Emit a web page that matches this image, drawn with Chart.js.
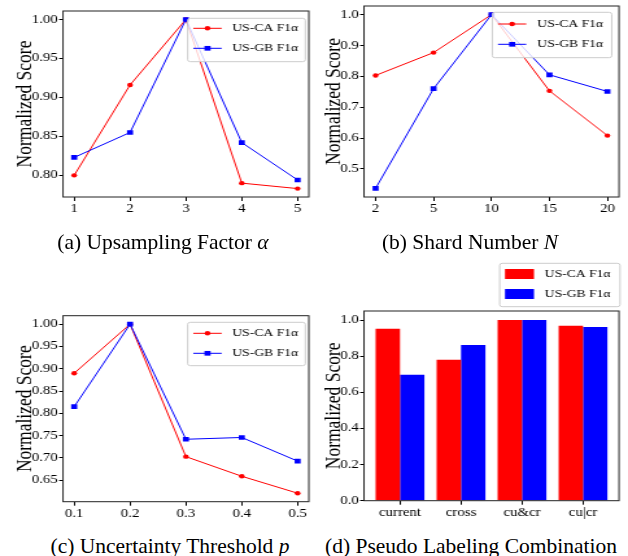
<!DOCTYPE html>
<html>
<head>
<meta charset="utf-8">
<script src="https://cdn.jsdelivr.net/npm/chart.js"></script>
<style>
html, body { margin: 0; padding: 0; background: #fff; }
body { width: 628px; height: 556px; position: relative; overflow: hidden; font-family: "Liberation Serif", serif; }
.panel { position: absolute; transform-origin: 0 0; }
.panel canvas { display: block; }
.cap { position: absolute; width: 320px; text-align: center; font-family: "Liberation Serif", serif; font-size: 21.5px; line-height: 24px; color: #000; white-space: nowrap; }
</style>
</head>
<body>
<div class="panel" id="pa"><canvas id="ca"></canvas></div>
<div class="panel" id="pb"><canvas id="cb"></canvas></div>
<div class="panel" id="pc"><canvas id="cc"></canvas></div>
<div class="panel" id="pd"><canvas id="cd"></canvas></div>
<div class="cap" style="left:3px;top:230px">(a) Upsampling Factor <i>α</i></div>
<div class="cap" style="left:310px;top:230px">(b) Shard Number <i>N</i></div>
<div class="cap" style="left:10px;top:534px">(c) Uncertainty Threshold <i>p</i></div>
<div class="cap" style="left:311px;top:534px">(d) Pseudo Labeling Combination</div>
<script>
// (a) upsampling factor
const alphaLabels = [1, 2, 3, 4, 5];
const alphaCA = [0.800, 0.916, 1.000, 0.790, 0.783];
const alphaGB = [0.823, 0.855, 1.000, 0.842, 0.794];
const alphaYTicks = [0.80, 0.85, 0.90, 0.95, 1.00];

// (b) shard number
const shardLabels = ['2', '5', '10', '15', '20'];
const shardCA = [0.803, 0.877, 1.000, 0.753, 0.608];
const shardGB = [0.437, 0.760, 1.000, 0.805, 0.751];
const shardYTicks = [0.5, 0.6, 0.7, 0.8, 0.9, 1.0];

// (c) uncertainty threshold
const thresholdLabels = [0.1, 0.2, 0.3, 0.4, 0.5];
const thresholdCA = [0.890, 1.000, 0.703, 0.659, 0.621];
const thresholdGB = [0.815, 1.000, 0.742, 0.746, 0.693];
const thresholdYTicks = [0.65, 0.70, 0.75, 0.80, 0.85, 0.90, 0.95, 1.00];

// (d) pseudo labeling combination
const comboLabels = ['current', 'cross', 'cu&cr', 'cu|cr'];
const comboCA = [0.952, 0.780, 1.000, 0.968];
const comboGB = [0.697, 0.862, 1.000, 0.962];
const comboYTicks = [0.0, 0.2, 0.4, 0.6, 0.8, 1.0];

const seriesNames = ['US-CA F1α', 'US-GB F1α'];
const RED = '#ff0000';
const BLUE = '#0000ff';
const FONT = 'Liberation Serif';
const CW = 242;       // canvas width before the sideways stretch
const S = 314 / CW;   // the figure text is stretched sideways

function yAxis(ticks, digits, min, max, width, titlePad) {
    return {
        type: 'linear', min: min, max: max,
        afterBuildTicks: s => { s.ticks = ticks.map(v => ({ value: v })); },
        afterFit: s => { s.width = width; s.paddingTop = 0; s.paddingBottom = 0; },
        ticks: { callback: v => Number(v).toFixed(digits), font: { family: FONT, size: 11.5 }, color: '#000', padding: 1 },
        grid: { drawOnChartArea: false, drawTicks: true, tickLength: 3, color: '#000', lineWidth: 1 },
        border: { display: false },
        title: { display: true, text: 'Normalized Score', font: { family: FONT, size: 17.5 }, color: '#000', padding: { top: titlePad, bottom: 0 } }
    };
}

function xAxis(ticks, fmt, min, max, height) {
    return {
        type: 'linear', min: min, max: max, offset: false,
        afterBuildTicks: s => { s.ticks = ticks.map(v => ({ value: v })); },
        afterFit: s => { s.height = height; s.paddingLeft = 0; s.paddingRight = 0; },
        ticks: { callback: fmt, font: { family: FONT, size: 11.5 }, color: '#000', padding: 1, maxRotation: 0, autoSkip: false },
        grid: { drawOnChartArea: false, drawTicks: true, tickLength: 4, color: '#000', lineWidth: 1, offset: false },
        border: { display: false }
    };
}

function framePlugin(legend) {
    return {
        id: 'frame',
        afterDatasetsDraw(chart) {
            const { ctx, chartArea: a } = chart;
            ctx.save();
            ctx.strokeStyle = '#222';
            ctx.lineWidth = 1;
            ctx.strokeRect(a.left, a.top, a.right - a.left, a.bottom - a.top);

            const [x0, y0, x1, y1] = legend.box;
            ctx.beginPath();
            ctx.roundRect(x0 / S, y0, (x1 - x0) / S, y1 - y0, 2);
            ctx.fillStyle = 'rgba(255,255,255,0.8)';
            ctx.fill();
            ctx.strokeStyle = '#cccccc';
            ctx.lineWidth = 1;
            ctx.stroke();

            ctx.font = '10.5px "' + FONT + '"';
            ctx.textBaseline = 'middle';
            legend.rows.forEach((y, i) => {
                const color = i === 0 ? RED : BLUE;
                const hx0 = legend.handle[0] / S, hx1 = legend.handle[1] / S;
                ctx.fillStyle = color;
                ctx.strokeStyle = color;
                if (legend.patch) {
                    ctx.fillRect(hx0, y - 5, hx1 - hx0, 10);
                } else {
                    ctx.beginPath();
                    ctx.moveTo(hx0, y);
                    ctx.lineTo(hx1, y);
                    ctx.stroke();
                    const mx = (hx0 + hx1) / 2;
                    if (i === 0) {
                        ctx.beginPath();
                        ctx.arc(mx, y, 2.2, 0, Math.PI * 2);
                        ctx.fill();
                    } else {
                        ctx.fillRect(mx - 2.35, y - 2.35, 4.7, 4.7);
                    }
                }
                ctx.fillStyle = '#000';
                ctx.fillText(seriesNames[i], legend.textX / S, y);
            });
            ctx.restore();
        }
    };
}

function lineSets(xs, ca, gb) {
    return [
        { label: seriesNames[0], data: xs.map((x, i) => ({ x: x, y: ca[i] })), borderColor: RED, backgroundColor: RED,
          borderWidth: 1, pointStyle: 'circle', pointRadius: 2.2, pointBorderWidth: 0, pointBackgroundColor: RED, tension: 0, order: 2 },
        { label: seriesNames[1], data: xs.map((x, i) => ({ x: x, y: gb[i] })), borderColor: BLUE, backgroundColor: BLUE,
          borderWidth: 1, pointStyle: 'rect', pointRadius: 3.3, pointBorderWidth: 0, pointBackgroundColor: BLUE, tension: 0, order: 1 }
    ];
}

function panel(divId, canvasId, p, area, legend, type, datasets, xCfg, yCfg) {
    const div = document.getElementById(divId);
    div.style.left = p.left + 'px';
    div.style.top = p.top + 'px';
    div.style.width = CW + 'px';
    div.style.height = p.h + 'px';
    div.style.transform = 'scaleX(' + S + ')';
    const canvas = document.getElementById(canvasId);
    canvas.width = CW;
    canvas.height = p.h;
    new Chart(canvas, {
        type: type,
        data: { datasets: datasets },
        options: {
            responsive: false,
            animation: false,
            devicePixelRatio: 1,
            layout: { padding: { left: 0, top: area.top, right: CW - area.right / S, bottom: 0 } },
            plugins: { legend: { display: false }, tooltip: { enabled: false } },
            scales: {
                x: xAxis(xCfg.ticks, xCfg.fmt, xCfg.min, xCfg.max, p.h - area.bottom),
                y: yAxis(yCfg.ticks, yCfg.digits, yCfg.min, yCfg.max, area.left / S, yCfg.titlePad)
            }
        },
        plugins: [framePlugin(legend)]
    });
}

// (a)
panel('pa', 'ca', { left: 0, top: 0, h: 228 }, { left: 63, right: 312, top: 11, bottom: 197 },
    { box: [187.7, 18.3, 305.3, 61.7], rows: [28.3, 48.3], handle: [193.3, 221.7], textX: 232.3 },
    'line', lineSets(alphaLabels, alphaCA, alphaGB),
    { ticks: alphaLabels, fmt: v => String(v), min: 0.8, max: 5.2 },
    { ticks: alphaYTicks, digits: 2, min: 0.7722, max: 1.0109, titlePad: 9.4 });

// (b)
const shardIdx = shardLabels.map((_, i) => i);
panel('pb', 'cb', { left: 314, top: 0, h: 228 }, { left: 50, right: 305, top: 6, bottom: 197 },
    { box: [178.3, 12.3, 297.7, 57.7], rows: [24, 44.3], handle: [184, 212.3], textX: 223.3 },
    'line', lineSets(shardIdx, shardCA, shardGB),
    { ticks: shardIdx, fmt: v => shardLabels[Math.round(v)], min: -0.2, max: 4.2 },
    { ticks: shardYTicks, digits: 1, min: 0.409, max: 1.028, titlePad: 5.3 });

// (c)
panel('pc', 'cc', { left: 0, top: 278, h: 250 }, { left: 63, right: 312, top: 37.7, bottom: 223.7 },
    { box: [187.7, 44.3, 305.3, 87.7], rows: [55.3, 75.3], handle: [193.3, 221.7], textX: 232.3 },
    'line', lineSets(thresholdLabels, thresholdCA, thresholdGB),
    { ticks: thresholdLabels, fmt: v => Number(v).toFixed(1), min: 0.08, max: 0.52 },
    { ticks: thresholdYTicks, digits: 2, min: 0.602, max: 1.019, titlePad: 9.4 });

// (d)
const comboIdx = comboLabels.map((_, i) => i);
panel('pd', 'cd', { left: 314, top: 250, h: 280 }, { left: 50, right: 305, top: 61, bottom: 250.7 },
    { box: [185.7, 13.3, 306, 56.7], rows: [24, 44], handle: [191, 220], textX: 230.7, patch: true },
    'bar', [
        { label: seriesNames[0], data: comboIdx.map(i => ({ x: i, y: comboCA[i] })), backgroundColor: RED, borderWidth: 0,
          barPercentage: 1, categoryPercentage: 0.8 },
        { label: seriesNames[1], data: comboIdx.map(i => ({ x: i, y: comboGB[i] })), backgroundColor: BLUE, borderWidth: 0,
          barPercentage: 1, categoryPercentage: 0.8 }
    ],
    { ticks: comboIdx, fmt: v => comboLabels[Math.round(v)], min: -0.59, max: 3.59 },
    { ticks: comboYTicks, digits: 1, min: 0, max: 1.05, titlePad: 5.1 });
</script>
</body>
</html>
